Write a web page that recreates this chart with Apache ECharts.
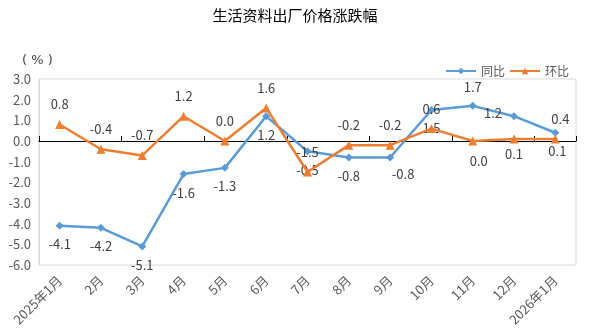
<!DOCTYPE html>
<html>
<head>
<meta charset="utf-8">
<script src="https://cdn.jsdelivr.net/npm/echarts@6/dist/echarts.min.js"></script>
<style>
  html, body { margin: 0; padding: 0; background: #fff; }
  #main { width: 590px; height: 336px; }
</style>
</head>
<body>
<div id="main"></div>
<script>
// 月份
var months = ['2025年1月', '2月', '3月', '4月', '5月', '6月', '7月', '8月', '9月', '10月', '11月', '12月', '2026年1月'];
// 同比
var yoy = [-4.1, -4.2, -5.1, -1.6, -1.3, 1.2, -0.5, -0.8, -0.8, 1.5, 1.7, 1.2, 0.4];
// 环比
var mom = [0.8, -0.4, -0.7, 1.2, 0.0, 1.6, -1.5, -0.2, -0.2, 0.6, 0.0, 0.1, 0.1];
var yTicks = [3, 2, 1, 0, -1, -2, -3, -4, -5, -6];

// 标签位置（仿原图）
var yoyLabelPos = ['bottom', 'bottom', 'bottom', 'bottom', 'bottom', 'bottom', 'bottom', 'bottom', 'bottom', 'bottom', 'top', 'left', 'top'];
var momLabelPos = ['top', 'top', 'top', 'top', 'top', 'top', 'top', 'top', 'top', 'top', 'bottom', 'bottom', 'bottom'];
var yoyLabelOff = [[0, 0], [0, 0], [0, 0], [0, 0], [0, 0], [0, 0], [0, 0], [0, 0], [13, -2], [0, 0], [0, 0], [0, -3], [5, 5]];
var momLabelOff = [[0, 0], [0, 0], [0, 0], [0, 0], [0, 0], [0, 0], [0, 0], [0, 0], [0, 0], [0, 0], [6, 0], [0, -5], [2, -8]];

var chart = echarts.init(document.getElementById('main'), null, { renderer: 'canvas' });

function buildData(vals, pos, off) {
  return vals.map(function (v, i) {
    return { value: v, label: { position: pos[i], offset: off[i] } };
  });
}

var option = {
  animation: false,
  textStyle: { fontFamily: '"Noto Sans CJK SC", "DejaVu Sans", sans-serif' },
  title: {
    text: '生活资料出厂价格涨跌幅',
    left: 'center',
    top: 3,
    textStyle: { fontSize: 15, fontWeight: 'normal', color: '#000' }
  },
  legend: {
    right: 16,
    top: 60,
    itemWidth: 30,
    itemHeight: 8,
    itemGap: 4,
    textStyle: { fontSize: 12, color: '#595959' },
    data: ['同比', '环比']
  },
  graphic: [{
    type: 'text',
    left: 22,
    top: 54,
    style: { text: '( % )', fontSize: 13, fill: '#404040', fontFamily: '"DejaVu Sans", sans-serif' }
  }],
  grid: { left: 39, right: 14, top: 79, bottom: 71, show: true, borderColor: '#d9d9d9', borderWidth: 1 },
  xAxis: [{
    type: 'category',
    data: months,
    boundaryGap: true,
    axisLine: { show: false, onZero: false },
    axisTick: { show: false },
    axisLabel: { rotate: 45, fontSize: 13, color: '#595959', interval: 0, margin: 13 }
  }, {
    type: 'category',
    data: months,
    boundaryGap: true,
    position: 'bottom',
    axisLine: { show: true, onZero: true, lineStyle: { color: '#000', width: 1 } },
    axisTick: { show: true, inside: true, length: 5, lineStyle: { color: '#000' } },
    axisLabel: { show: false }
  }],
  yAxis: {
    type: 'value',
    min: -6,
    max: 3,
    interval: 1,
    axisLine: { show: true, lineStyle: { color: '#d9d9d9' } },
    axisTick: { show: false },
    splitLine: { show: false },
    axisLabel: {
      fontSize: 13,
      color: '#595959',
      margin: 8,
      formatter: function (v) { return yTicks.indexOf(v) >= 0 ? v.toFixed(1) : ''; }
    }
  },
  series: [{
    name: '同比',
    type: 'line',
    data: buildData(yoy, yoyLabelPos, yoyLabelOff),
    symbol: 'diamond',
    symbolSize: 8,
    lineStyle: { color: '#5b9bd5', width: 2.5 },
    itemStyle: { color: '#5b9bd5' },
    label: {
      show: true,
      fontSize: 13,
      color: '#404040',
      distance: 8,
      formatter: function (p) { return p.value.toFixed(1); }
    },
    z: 3
  }, {
    name: '环比',
    type: 'line',
    data: buildData(mom, momLabelPos, momLabelOff),
    symbol: 'triangle',
    symbolSize: 9,
    lineStyle: { color: '#ed7d31', width: 2.5 },
    itemStyle: { color: '#ed7d31' },
    label: {
      show: true,
      fontSize: 13,
      color: '#404040',
      distance: 9,
      formatter: function (p) { return p.value.toFixed(1); }
    },
    z: 4
  }]
};
chart.setOption(option);
</script>
</body>
</html>
